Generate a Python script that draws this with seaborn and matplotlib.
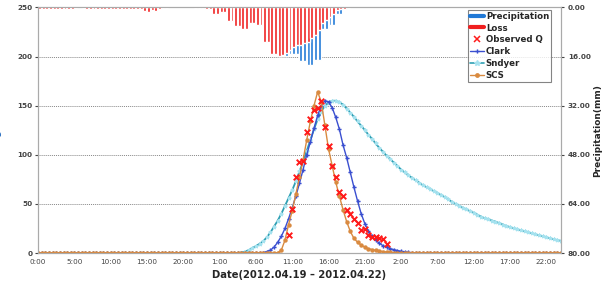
import numpy as np
import pandas as pd
import matplotlib
matplotlib.use("Agg")
import matplotlib.pyplot as plt
from matplotlib.lines import Line2D
import seaborn as sns

# ===== Данные (часы от 2012.04.19 0:00, шаг 30 мин) =====
step = 0.5
hours = np.arange(0, 72 + step, step)

# Осадки и потери (мм за 30 мин), начиная с 0:00
precip_early = [0.4, 0.4, 0.4, 0.4, 0.4, 0.4, 0.4, 0.4, 0.4, 0.4, 0.3, 0.0,
                0.3, 0.4, 0.4, 0.4, 0.4, 0.4, 0.4, 0.4, 0.4, 0.4, 0.4, 0.5,
                0.4, 0.4, 0.4, 0.5, 0.6, 1.3, 1.4, 1.0, 1.2, 0.4, 0.3, 0.3,
                0.0, 0.0, 0.0, 0.0, 0.0, 0.0, 0.0, 0.3, 0.3, 0.3, 0.4, 0.4]
precip_main = [2.2, 2.2, 1.4, 1.4, 4.4, 4.4, 6.1, 6.1, 7.2, 7.2, 5.2, 5.2,
               5.7, 5.7, 11.2, 11.2, 15.3, 15.3, 15.8, 15.8, 15.8, 15.3, 15.3, 15.3,
               17.5, 17.5, 18.8, 18.8, 17.1, 17.1, 7.2, 7.2, 5.7, 5.7, 2.0, 2.0,
               0.6, 0.3]
loss_main = [2.2, 2.2, 1.4, 1.4, 4.4, 4.4, 6.1, 6.1, 7.2, 7.2, 5.2, 5.2,
             5.7, 5.7, 11.2, 11.2, 15.3, 15.3, 15.8, 15.6, 15.0, 13.9, 12.8, 12.3,
             12.3, 11.7, 11.2, 10.1, 9.0, 7.4, 5.0, 4.1, 3.1, 2.0, 0.9, 0.65,
             0.5, 0.3]

# Расчётные гидрографы (м3/с)
clark_start = 31.0
clark = [0.5, 1.5, 3, 6, 11, 17, 25, 35, 46, 58, 71, 85,
         100, 113, 127, 140, 150, 155, 154, 148, 138, 126, 110, 97,
         82, 67, 53, 40, 30, 22, 17, 13, 10, 7.5, 6, 4.5,
         3.5, 2.5, 1.8, 1.2, 0.7, 0.3]

scs_start = 33.0
scs = [0.5, 3, 13, 29, 43, 60, 77, 95, 115, 134, 150, 164,
       154, 130, 106, 89, 72, 58, 44, 32, 22, 15, 11, 8,
       6, 4.5, 3.5, 2.7, 2, 1.5, 1, 0.6, 0.3]

snyder_start = 28.0
snyder = [0.5, 1.5, 3, 5, 7, 9.5, 12, 16, 21, 27, 33, 40,
          48, 56, 64, 73, 83, 93, 104, 115, 126, 136, 144, 150,
          153, 155, 155, 153.5, 151, 147, 143, 138.5, 134, 129.5, 125, 120.5,
          116, 111.5, 107, 103, 99, 95.5, 92, 88.5, 85, 82, 79, 76.5,
          74, 71.5, 69, 67, 65, 63, 61, 59, 57, 54.5, 52, 50,
          48, 46, 44.5, 42.5, 41, 39, 37, 35.5, 34.5, 33, 32, 30.5,
          29, 27.5, 26.5, 25, 24, 23, 22, 21, 20, 19, 18, 17,
          16, 15, 14, 13, 12.5]

# Наблюдённый расход
obs_hours = [34.5, 35.0, 35.5, 36.0, 36.5, 37.0, 37.5, 38.0, 38.5, 39.0,
             39.5, 40.0, 40.5, 41.0, 41.5, 42.0, 42.5, 43.0, 43.5, 44.0,
             44.5, 45.0, 45.5, 46.0, 46.5, 47.0, 47.5, 48.0]
obs_q = [18, 45, 77, 93, 94, 123, 136, 146, 148, 155,
         128, 109, 89, 77, 62, 58, 44, 40, 35, 31,
         23, 24, 18, 16, 16, 15.5, 14, 9]

tick_hours = list(range(0, 71, 5))
tick_labels = [f"{h % 24}:00" for h in tick_hours]


def pad(values, start):
    i0 = int(round(start / step))
    out = np.zeros(len(hours))
    out[i0:i0 + len(values)] = values
    return out


curves = pd.DataFrame({
    "hour": hours,
    "Clark": pad(clark, clark_start),
    "SCS": pad(scs, scs_start),
    "Sndyer": pad(snyder, snyder_start),
})
bar_hours = np.arange(0, 43, step)
precip = np.array(precip_early + precip_main)
loss = np.array(precip_early + loss_main)

# ===== Стиль =====
sns.set_style("white")
plt.rcParams["font.family"] = ["DejaVu Sans"]

c_precip = "#1f78d6"
c_loss = "#f01e1e"
c_clark = "#3a4fd0"
c_snyder = "#2f9fb3"
c_snyder_m = "#a6e2ef"
c_scs = "#d98a40"
c_obs = "#ff1a1a"

fig = plt.figure(figsize=(6.05, 2.84), dpi=100)
ax = fig.add_axes([0.063, 0.109, 0.864, 0.865])

sns.lineplot(data=curves, x="hour", y="Sndyer", ax=ax, color=c_snyder, lw=1.3,
             marker="*", markersize=2.8, markerfacecolor=c_snyder_m,
             markeredgecolor=c_snyder_m, zorder=2)
sns.lineplot(data=curves, x="hour", y="Clark", ax=ax, color=c_clark, lw=1.0,
             marker="P", markersize=3, markeredgewidth=0, zorder=3)
sns.lineplot(data=curves, x="hour", y="SCS", ax=ax, color=c_scs, lw=1.0,
             marker="o", markersize=3.2, markeredgewidth=0, zorder=4)
sns.scatterplot(x=obs_hours, y=obs_q, ax=ax, color=c_obs, marker="x", s=16,
                linewidth=1.4, zorder=5)

ax.set_xlim(0, 72)
ax.set_ylim(0, 250)
ax.set_yticks([0, 50, 100, 150, 200, 250])
ax.set_xticks(tick_hours)
ax.set_xticklabels(tick_labels)
ax.tick_params(axis="both", labelsize=5.2, length=2, colors="#444444", pad=2)
for lab in ax.get_yticklabels():
    lab.set_fontweight("bold")
ax.grid(axis="y", color="#888888", ls=(0, (1, 1)), lw=0.7)
for sp in ax.spines.values():
    sp.set_color("#aaaaaa")
    sp.set_linewidth(0.8)
ax.set_xlabel("Date(2012.04.19 \u2013 2012.04.22)", fontsize=7.2,
              fontweight="bold", labelpad=4)
ax.set_ylabel("")
fig.text(-0.006, 0.53, "Discharge(m\u00b3/s)", rotation=90, color="#2a6fc0",
         fontsize=6.5, fontweight="bold", ha="center", va="center")

# ===== Осадки на второй оси =====
ax2 = ax.twinx()
ax2.bar(bar_hours, precip, width=0.4, align="edge", color=c_precip, zorder=1)
ax2.bar(bar_hours, loss, width=0.4, align="edge", color=c_loss, zorder=2)
ax2.set_ylim(80, 0)
ax2.set_yticks([0, 16, 32, 48, 64, 80])
ax2.set_yticklabels([f"{v:.2f}" for v in [0, 16, 32, 48, 64, 80]])
ax2.tick_params(axis="y", labelsize=5.2, length=2, colors="#444444", pad=3)
for lab in ax2.get_yticklabels():
    lab.set_fontweight("bold")
ax2.set_ylabel("Precipitation(mm)", fontsize=6.5, fontweight="bold", labelpad=2)
for sp in ax2.spines.values():
    sp.set_color("#aaaaaa")
    sp.set_linewidth(0.8)

handles = [
    Line2D([], [], color=c_precip, lw=3),
    Line2D([], [], color=c_loss, lw=3),
    Line2D([], [], color=c_obs, lw=0, marker="x", markersize=4, markeredgewidth=1.1),
    Line2D([], [], color=c_clark, lw=1, marker="P", markersize=3, markeredgewidth=0),
    Line2D([], [], color=c_snyder, lw=1.2, marker="*", markersize=4,
           markerfacecolor=c_snyder_m, markeredgecolor=c_snyder_m),
    Line2D([], [], color=c_scs, lw=1, marker="o", markersize=3.5, markeredgewidth=0),
]
labels = ["Precipitation", "Loss", "Observed Q", "Clark", "Sndyer", "SCS"]
leg = ax2.legend(handles, labels, loc="upper right", bbox_to_anchor=(0.985, 0.998),
                 frameon=True, fancybox=False, handlelength=1.6,
                 handletextpad=0.2, labelspacing=0.32, borderpad=0.25,
                 borderaxespad=0.2, prop={"weight": "bold", "size": 6.2})
leg.get_frame().set_edgecolor("#666666")
leg.get_frame().set_linewidth(0.8)
leg.set_zorder(10)

plt.savefig("out.png", dpi=100)
plt.close()
